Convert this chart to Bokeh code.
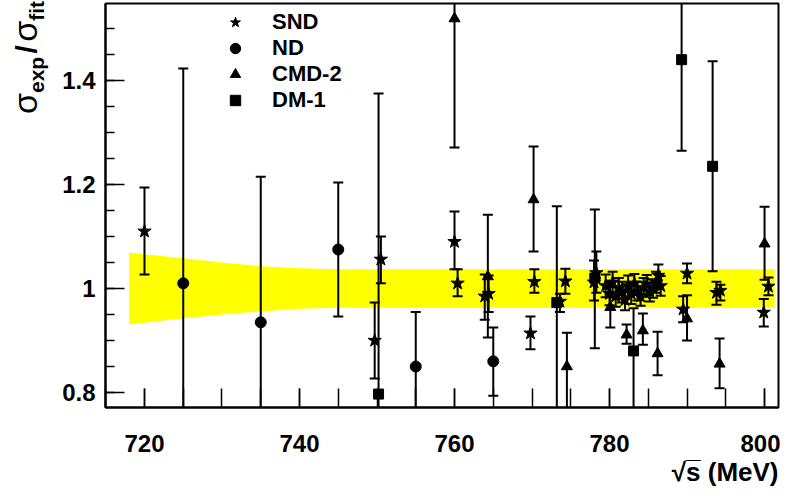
import numpy as np
from bokeh.plotting import figure
from bokeh.layouts import row
from bokeh.models import (Range1d, FixedTicker, Legend, LegendItem, ColumnDataSource,
                          Title, Div)
from bokeh.embed import file_html
from bokeh.resources import INLINE

# ---------------- data ----------------
# SND
snd_x = [720.0, 749.7, 750.5, 760.0, 760.4, 763.9, 764.4, 769.8, 770.3, 773.6, 774.3,
         778.0, 778.3, 779.5, 780.0, 780.4, 780.8, 781.2, 781.6, 782.0, 782.4, 782.8,
         783.2, 783.6, 784.0, 784.4, 784.8, 785.2, 785.6, 786.0, 786.3, 786.6,
         789.5, 790.0, 793.8, 794.3, 799.9, 800.5]
snd_y = [1.110, 0.900, 1.056, 1.090, 1.010, 0.985, 0.990, 0.914, 1.013, 0.975, 1.014,
         1.012, 1.030, 1.005, 0.990, 1.012, 0.985, 1.000, 0.993, 0.978, 1.005, 0.990,
         1.010, 0.995, 0.985, 1.002, 1.008, 0.993, 1.000, 1.012, 1.025, 1.005,
         0.960, 1.029, 0.992, 0.996, 0.954, 1.004]
snd_hi = [1.194, 0.973, 1.100, 1.148, 1.037, 1.027, 1.025, 0.946, 1.037, 0.990, 1.038,
          1.054, 1.071, 1.027, 1.012, 1.032, 1.005, 1.020, 1.013, 0.998, 1.025, 1.010,
          1.028, 1.013, 1.003, 1.020, 1.026, 1.011, 1.018, 1.032, 1.046, 1.024,
          0.985, 1.048, 1.013, 1.007, 0.980, 1.021]
snd_lo = [1.027, 0.827, 1.010, 1.037, 0.985, 0.940, 0.955, 0.883, 0.992, 0.955, 0.990,
          0.977, 0.992, 0.983, 0.968, 0.992, 0.965, 0.980, 0.973, 0.958, 0.985, 0.970,
          0.992, 0.977, 0.967, 0.984, 0.990, 0.975, 0.982, 0.992, 1.004, 0.986,
          0.935, 1.010, 0.969, 0.977, 0.927, 0.987]

# ND
nd_x = [725.0, 735.0, 745.0, 755.0, 765.0]
nd_y = [1.010, 0.935, 1.075, 0.850, 0.860]
nd_hi = [1.423, 1.215, 1.204, 0.955, 0.925]
nd_lo = [0.600, 0.600, 0.946, 0.600, 0.794]

# CMD-2
cmd_x = [760.0, 764.3, 770.2, 774.5, 780.1, 782.2, 784.3, 786.2, 790.0, 794.2, 800.0]
cmd_y = [1.519, 1.023, 1.171, 0.850, 0.964, 0.911, 0.919, 0.875, 0.942, 0.855, 1.086]
cmd_hi = [1.800, 1.142, 1.273, 0.915, 1.003, 0.931, 0.952, 0.917, 0.987, 0.904, 1.157]
cmd_lo = [1.271, 0.906, 1.071, 0.600, 0.925, 0.894, 0.892, 0.833, 0.900, 0.808, 1.017]

# DM-1
dm_x = [750.2, 773.2, 778.1, 783.1, 789.3, 793.3]
dm_y = [0.797, 0.973, 1.020, 0.880, 1.440, 1.235]
dm_hi = [1.375, 1.158, 1.152, 0.962, 1.800, 1.437]
dm_lo = [0.600, 0.600, 0.885, 0.600, 1.265, 1.033]

# fit uncertainty band
band_x = [718.0, 720.0, 725.0, 730.0, 735.0, 740.0, 745.0, 801.3]
band_hi = [1.069, 1.066, 1.058, 1.050, 1.043, 1.039, 1.037, 1.037]
band_lo = [0.931, 0.934, 0.943, 0.950, 0.956, 0.961, 0.963, 0.963]

x_major = [720, 740, 760, 780, 800]
y_major = [0.8, 1.0, 1.2, 1.4]
y_labels = {0.8: "0.8", 1.0: "1", 1.2: "1.2", 1.4: "1.4"}
x_title = "√s\u0305 (MeV)"

FONT = "Liberation Sans"

# ---------------- figure ----------------
X0, X1 = 714.97, 801.8
Y0, Y1 = 0.7712, 1.548
DIVW = 50
FL, FR, FT, FB = 105, 778, 3, 407   # frame edges in page pixels
W, H = 780, 496

p = figure(width=W - DIVW, height=H, output_backend="svg", toolbar_location=None,
           x_range=Range1d(X0, X1), y_range=Range1d(Y0, Y1),
           min_border_left=FL - DIVW, min_border_right=W - FR, min_border_top=FT,
           min_border_bottom=H - FB)
p.grid.visible = False
p.outline_line_color = "black"
p.outline_line_width = 2
p.background_fill_color = "white"
p.border_fill_color = "white"

xa = p.xaxis[0]
xa.ticker = FixedTicker(ticks=x_major, minor_ticks=list(np.arange(715, 805, 5)))
xa.major_tick_in = 19
xa.major_tick_out = 0
xa.minor_tick_in = 19
xa.minor_tick_out = 0
xa.major_tick_line_width = 1.5
xa.minor_tick_line_width = 1.5
xa.axis_line_width = 2
xa.major_label_text_font = FONT
xa.major_label_text_font_style = "bold"
xa.major_label_text_font_size = "24px"
xa.major_label_text_color = "black"
xa.major_label_standoff = 27

ya = p.yaxis[0]
ya.ticker = FixedTicker(ticks=y_major, minor_ticks=list(np.round(np.arange(0.8, 1.56, 0.05), 2)))
ya.major_label_overrides = y_labels
ya.major_tick_in = 19
ya.major_tick_out = 0
ya.minor_tick_in = 9
ya.minor_tick_out = 0
ya.major_tick_line_width = 1.5
ya.minor_tick_line_width = 1.5
ya.axis_line_width = 2
ya.major_label_text_font = FONT
ya.major_label_text_font_style = "bold"
ya.major_label_text_font_size = "24px"
ya.major_label_text_color = "black"
ya.major_label_standoff = 10

# band
p.varea(x=band_x, y1=band_lo, y2=band_hi, fill_color="#ffff00", fill_alpha=1.0)

series = [
    ("SND", snd_x, snd_y, snd_lo, snd_hi, "star", 14),
    ("ND", nd_x, nd_y, nd_lo, nd_hi, "circle", 11),
    ("CMD-2", cmd_x, cmd_y, cmd_lo, cmd_hi, "triangle", 11),
    ("DM-1", dm_x, dm_y, dm_lo, dm_hi, "square", 10),
]

sources = {}
for name, xs, ys, lo, hi, mk, sz in series:
    src = ColumnDataSource(dict(x=xs, y=ys, lo=lo, hi=hi))
    sources[name] = src
    p.segment(x0="x", y0="lo", x1="x", y1="hi", source=src, line_color="black", line_width=2)
    p.scatter(x="x", y="lo", source=src, marker="dash", size=10, line_color="black", line_width=2)
    p.scatter(x="x", y="hi", source=src, marker="dash", size=10, line_color="black", line_width=2)

items = []
for name, xs, ys, lo, hi, mk, sz in series:
    r = p.scatter(x="x", y="y", source=sources[name], marker=mk, size=sz,
                  fill_color="black", line_color="black", line_width=1)
    items.append(LegendItem(label=name, renderers=[r]))

legend = Legend(items=items, location=(117, (FB - FT) - 6 - 104), glyph_width=26,
                glyph_height=26, label_height=26, spacing=0, padding=0, margin=0,
                label_standoff=24, label_text_font=FONT, label_text_font_style="bold",
                label_text_font_size="22px", label_text_color="black",
                background_fill_alpha=0, border_line_alpha=0)
p.add_layout(legend)

# x-axis title, right aligned under the frame
p.add_layout(Title(text=x_title, align="right", text_font=FONT, text_font_style="bold",
                   text_font_size="26px", text_color="black", standoff=0, offset=0),
             "below")

# y-axis title with real subscripts (rotated HTML text)
SUB = 'font-size:21px;font-weight:bold;position:relative;top:7px;'
ytitle_html = (
    '<div style="position:relative;width:%dpx;height:%dpx;">' % (DIVW, H)
    + '<div style="position:absolute;left:8px;top:114px;transform:rotate(-90deg);'
    + 'transform-origin:0 0;white-space:nowrap;font-family:\'Liberation Sans\',Arial,sans-serif;'
    + 'font-size:34px;line-height:34px;color:black;">'
    + 'σ<span style="%s">exp</span>' % SUB
    + '<span style="font-weight:bold;font-size:30px;"><span style="font-size:12px;"> </span>/'
    + '<span style="font-size:12px;"> </span></span>'
    + 'σ<span style="%s">fit</span>' % SUB
    + '</div></div>'
)
ydiv = Div(text=ytitle_html, width=DIVW, height=H, margin=(0, 0, 0, 0))

layout = row(ydiv, p, spacing=0)

open("out.html", "w").write(file_html(layout, INLINE))
